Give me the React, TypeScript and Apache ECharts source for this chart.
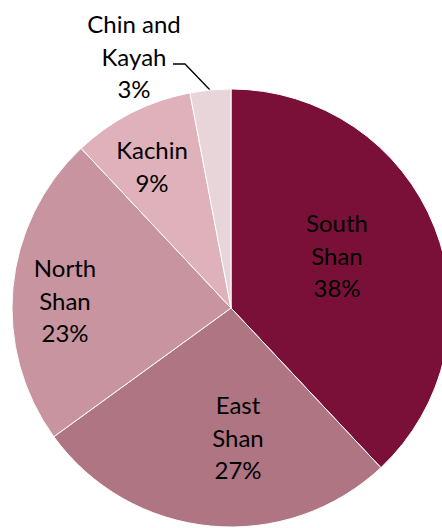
import React, { useEffect, useRef } from "react";
import * as echarts from "echarts";

const regions = ["South\nShan", "East\nShan", "North\nShan", "Kachin", "Chin and\nKayah"];
const shares = [38, 27, 23, 9, 3];
const colors = ["#7A1038", "#AF7582", "#C894A0", "#DFB1BB", "#E8D5DA"];

// label anchor positions (px) in the picture
const labelPos: [number, number][] = [
  [337, 255],
  [238, 437],
  [65, 300],
  [152, 166],
  [134, 56],
];

export default function App() {
  const ref = useRef<HTMLDivElement>(null);
  useEffect(() => {
    if (!ref.current) return;
    const chart = echarts.init(ref.current, null, { renderer: "svg" });
    chart.setOption({
      animation: false,
      backgroundColor: "#ffffff",
      series: [
        {
          type: "pie",
          center: [231, 308],
          radius: 219,
          startAngle: 90,
          clockwise: true,
          silent: true,
          itemStyle: { borderColor: "#ffffff", borderWidth: 1 },
          label: {
            show: true,
            position: "inside",
            formatter: (p: any) => `${p.name}\n${p.value}%`,
            fontFamily: "Lato, 'Open Sans', sans-serif",
            fontSize: 24,
            lineHeight: 32.5,
            color: "#000000",
            align: "center",
            verticalAlign: "middle",
          },
          labelLine: { show: false },
          labelLayout: (params: any) => {
            const i = params.dataIndex;
            const [x, y] = labelPos[i];
            const res: any = { x, y, align: "center", verticalAlign: "middle" };
            if (i === 4) {
              res.labelLinePoints = [
                [173, 64],
                [185, 64],
                [210, 90],
              ];
            }
            return res;
          },
          data: regions.map((name, i) => {
            const item: any = {
              name,
              value: shares[i],
              itemStyle: { color: colors[i] },
            };
            if (i === 4) {
              item.label = { position: "outside" };
              item.labelLine = {
                show: true,
                lineStyle: { color: "#000000", width: 1.3 },
              };
            }
            return item;
          }),
        },
      ],
    });
    return () => chart.dispose();
  }, []);
  return <div ref={ref} style={{ width: 442, height: 528, position: "absolute", left: 0, top: 0 }} />;
}
